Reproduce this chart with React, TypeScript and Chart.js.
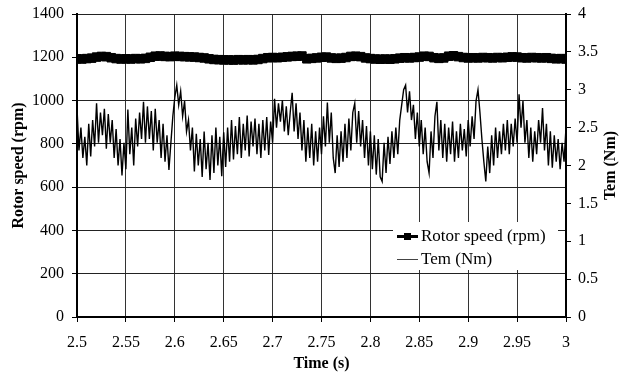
import React, { useEffect, useRef } from "react";
import { Chart, registerables } from "chart.js";

Chart.register(...registerables);

// ---- data ----
const TIME_START = 2.5;
const TEM_STEP = 0.002; // s between Tem samples
const SPEED_STEP = 0.005; // s between rotor speed samples

const X_TICKS = [2.5, 2.55, 2.6, 2.65, 2.7, 2.75, 2.8, 2.85, 2.9, 2.95, 3];
const LEFT_TICKS = [0, 200, 400, 600, 800, 1000, 1200, 1400];
const RIGHT_TICKS = [0, 0.5, 1, 1.5, 2, 2.5, 3, 3.5, 4];

const SERIES_SPEED = "Rotor speed (rpm)";
const SERIES_TEM = "Tem (Nm)";

const ROTOR_SPEED = [
  1193, 1192, 1194, 1196, 1201, 1204, 1203, 1198, 1194, 1192,
  1193, 1192, 1194, 1193, 1195, 1200, 1205, 1206, 1204, 1203,
  1205, 1204, 1203, 1202, 1201, 1199, 1197, 1193, 1190, 1189,
  1188, 1188, 1187, 1189, 1188, 1189, 1188, 1190, 1194, 1198,
  1199, 1198, 1200, 1202, 1204, 1205, 1206, 1193, 1195, 1197,
  1200, 1201, 1197, 1195, 1196, 1199, 1204, 1205, 1203, 1197,
  1194, 1192, 1191, 1192, 1191, 1193, 1196, 1198, 1197, 1199,
  1201, 1205, 1204, 1198, 1195, 1197, 1205, 1207, 1203, 1199,
  1197, 1198, 1197, 1199, 1198, 1197, 1199, 1198, 1200, 1202,
  1201, 1198, 1197, 1199, 1198, 1197, 1198, 1195, 1193, 1194,
  1192,
];

const TEM = [
  2.76, 2.2, 2.5, 2.1, 2.38, 2.0, 2.55, 2.12, 2.6, 2.25,
  2.82, 2.3, 2.7, 2.4, 2.75, 2.22, 2.68, 2.3,
  2.6, 2.1, 2.48, 2.0, 2.35, 1.87, 2.3, 1.95,
  2.74, 2.15, 2.5, 2.0, 2.62, 2.25, 2.7, 2.35, 2.84,
  2.3, 2.78, 2.35, 2.72, 2.2, 2.75, 2.3, 2.6,
  2.1, 2.55, 2.05, 2.4, 1.94, 2.3,
  2.65, 2.9, 3.06, 2.8, 2.98, 2.65, 2.85, 2.45, 2.6, 2.2,
  2.5, 1.92, 2.42, 2.0, 2.35, 1.85, 2.45, 1.95, 2.3, 1.81,
  2.4, 1.9, 2.5, 2.0, 2.38, 1.86, 2.44, 1.98, 2.5, 2.05,
  2.6, 2.08, 2.52, 2.15, 2.64, 2.1, 2.55, 2.2, 2.66, 2.12, 2.58,
  2.25, 2.62, 2.15, 2.55, 2.1, 2.6, 2.2, 2.64, 2.14, 2.58, 2.3,
  2.88, 2.5, 2.82, 2.58, 2.86, 2.45, 2.78, 2.4, 2.7,
  2.96, 2.45, 2.82, 2.35, 2.7, 2.2, 2.6, 2.05, 2.5, 2.1, 2.55, 2.0, 2.45, 2.05, 2.5,
  2.15, 2.65, 2.25, 2.83, 2.3, 2.7, 2.1, 1.9, 2.4,
  1.98, 2.45, 2.05, 2.55, 2.1, 2.62, 2.2, 2.7, 2.82,
  2.3, 2.72, 2.25, 2.6, 2.1, 2.52, 2.0, 2.45, 1.95, 2.4, 1.88, 2.35, 1.85, 1.79,
  2.3, 1.9, 2.38, 2.02, 2.45, 2.1, 2.5, 2.15, 2.6,
  2.8, 3.0, 3.06, 2.7, 2.98, 2.6, 2.8,
  2.35, 2.7, 2.25, 2.6, 2.15, 2.5, 2.05, 1.9,
  2.45, 2.1, 2.65, 2.84,
  2.2, 2.6, 2.1, 2.55, 2.05, 2.5, 2.15, 2.58, 2.05, 2.45,
  2.1, 2.55, 2.2, 2.48, 2.12, 2.6, 2.25, 2.65, 2.35,
  2.85, 3.0, 2.7, 2.35, 2.05, 1.79,
  2.25, 1.9, 2.4, 2.0, 2.5, 2.1, 2.45, 2.15, 2.55, 2.2, 2.6, 2.15, 2.55, 2.25, 2.62, 2.3, 2.94,
  2.5, 2.85, 2.3, 2.6, 2.1, 2.5, 2.05, 2.45, 2.15, 2.6, 2.3, 2.76,
  2.2, 2.55, 2.0, 2.45, 1.97, 2.4, 2.05, 2.35, 1.95, 2.3, 2.05, 2.5,
];

const FONT = '"Liberation Serif", "Times New Roman", serif';

const fmt = (v: number) => String(Number(v.toFixed(2)));

const decorPlugin = {
  id: "decor",
  afterDatasetsDraw(chart: any) {
    const ctx = chart.ctx;
    const lx = 393, ly = 222, lw = 165, lh = 48;
    ctx.save();
    ctx.fillStyle = "#ffffff";
    ctx.fillRect(lx, ly, lw, lh);
    ctx.strokeStyle = "#000";
    ctx.lineWidth = 3;
    ctx.beginPath();
    ctx.moveTo(397, 236.5);
    ctx.lineTo(418, 236.5);
    ctx.stroke();
    ctx.fillStyle = "#000";
    ctx.fillRect(404, 233, 7, 7);
    ctx.strokeStyle = "#444";
    ctx.lineWidth = 1;
    ctx.beginPath();
    ctx.moveTo(397, 259.5);
    ctx.lineTo(418, 259.5);
    ctx.stroke();
    ctx.fillStyle = "#000";
    ctx.font = `17px ${FONT}`;
    ctx.textAlign = "left";
    ctx.textBaseline = "middle";
    ctx.fillText(SERIES_SPEED, 421, 237);
    ctx.fillText(SERIES_TEM, 421, 260);
    ctx.restore();
  },
  afterDraw(chart: any) {
    const ctx = chart.ctx;
    const area = chart.chartArea;
    const midY = (area.top + area.bottom) / 2;
    ctx.save();
    ctx.fillStyle = "#000";
    ctx.font = `bold 16px ${FONT}`;
    ctx.textAlign = "center";
    ctx.textBaseline = "middle";
    ctx.save();
    ctx.translate(19, midY);
    ctx.rotate(-Math.PI / 2);
    ctx.fillText("Rotor speed (rpm)", 0, 0);
    ctx.restore();
    ctx.save();
    ctx.translate(611, midY);
    ctx.rotate(-Math.PI / 2);
    ctx.fillText("Tem (Nm)", 0, 0);
    ctx.restore();
    ctx.fillText("Time (s)", (area.left + area.right) / 2, 364);
    ctx.restore();
  },
};

export default function App() {
  const ref = useRef<HTMLCanvasElement | null>(null);

  useEffect(() => {
    document.body.style.margin = "0";
    const canvas = ref.current;
    if (!canvas) return;

    const temPoints = TEM.map((v, i) => ({ x: TIME_START + i * TEM_STEP, y: v }));
    const speedPoints = ROTOR_SPEED.map((v, i) => ({ x: TIME_START + i * SPEED_STEP, y: v }));

    const chart = new Chart(canvas, {
      type: "line",
      data: {
        datasets: [
          {
            label: SERIES_SPEED,
            data: speedPoints,
            yAxisID: "y",
            borderColor: "#000",
            backgroundColor: "#000",
            borderWidth: 6,
            pointStyle: "rect",
            pointRadius: 6,
            pointBorderWidth: 1,
            tension: 0,
          },
          {
            label: SERIES_TEM,
            data: temPoints,
            yAxisID: "y1",
            borderColor: "#000",
            borderWidth: 1.4,
            pointRadius: 0,
            tension: 0,
          },
        ],
      },
      options: {
        responsive: false,
        animation: false,
        events: [],
        layout: { padding: { top: 14, left: 0, right: 0, bottom: 0 } },
        plugins: {
          legend: { display: false },
          tooltip: { enabled: false },
          title: { display: false },
        },
        scales: {
          x: {
            type: "linear",
            min: 2.5,
            max: 3,
            afterBuildTicks: (s: any) => {
              s.ticks = X_TICKS.map((v) => ({ value: v }));
            },
            afterFit: (s: any) => {
              s.height = 59;
              s.paddingLeft = 0;
              s.paddingRight = 0;
            },
            ticks: {
              callback: (v: any) => fmt(Number(v)),
              color: "#000",
              font: { family: FONT, size: 16 },
              padding: 11,
              maxRotation: 0,
              autoSkip: false,
            },
            grid: { color: "#333", lineWidth: 1, tickLength: 5, tickColor: "#000" },
            border: { color: "#000", width: 2 },
          },
          y: {
            position: "left",
            min: 0,
            max: 1400,
            afterBuildTicks: (s: any) => {
              s.ticks = LEFT_TICKS.map((v) => ({ value: v }));
            },
            afterFit: (s: any) => {
              s.width = 77;
              s.paddingTop = 0;
              s.paddingBottom = 0;
            },
            ticks: {
              callback: (v: any) => fmt(Number(v)),
              color: "#000",
              font: { family: FONT, size: 16 },
              padding: 8,
              autoSkip: false,
            },
            grid: { color: "#222", lineWidth: 1, tickLength: 5, tickColor: "#000" },
            border: { color: "#000", width: 2 },
          },
          y1: {
            position: "right",
            min: 0,
            max: 4,
            afterBuildTicks: (s: any) => {
              s.ticks = RIGHT_TICKS.map((v) => ({ value: v }));
            },
            afterFit: (s: any) => {
              s.width = 74;
              s.paddingTop = 0;
              s.paddingBottom = 0;
            },
            ticks: {
              callback: (v: any) => fmt(Number(v)),
              color: "#000",
              font: { family: FONT, size: 16 },
              padding: 7,
              autoSkip: false,
            },
            grid: { drawOnChartArea: false, tickLength: 5, tickColor: "#000" },
            border: { color: "#000", width: 2 },
          },
        },
      },
      plugins: [decorPlugin],
    });

    return () => chart.destroy();
  }, []);

  return (
    <div style={{ width: 640, height: 376 }}>
      <canvas ref={ref} width={640} height={376} style={{ display: "block" }} />
    </div>
  );
}
